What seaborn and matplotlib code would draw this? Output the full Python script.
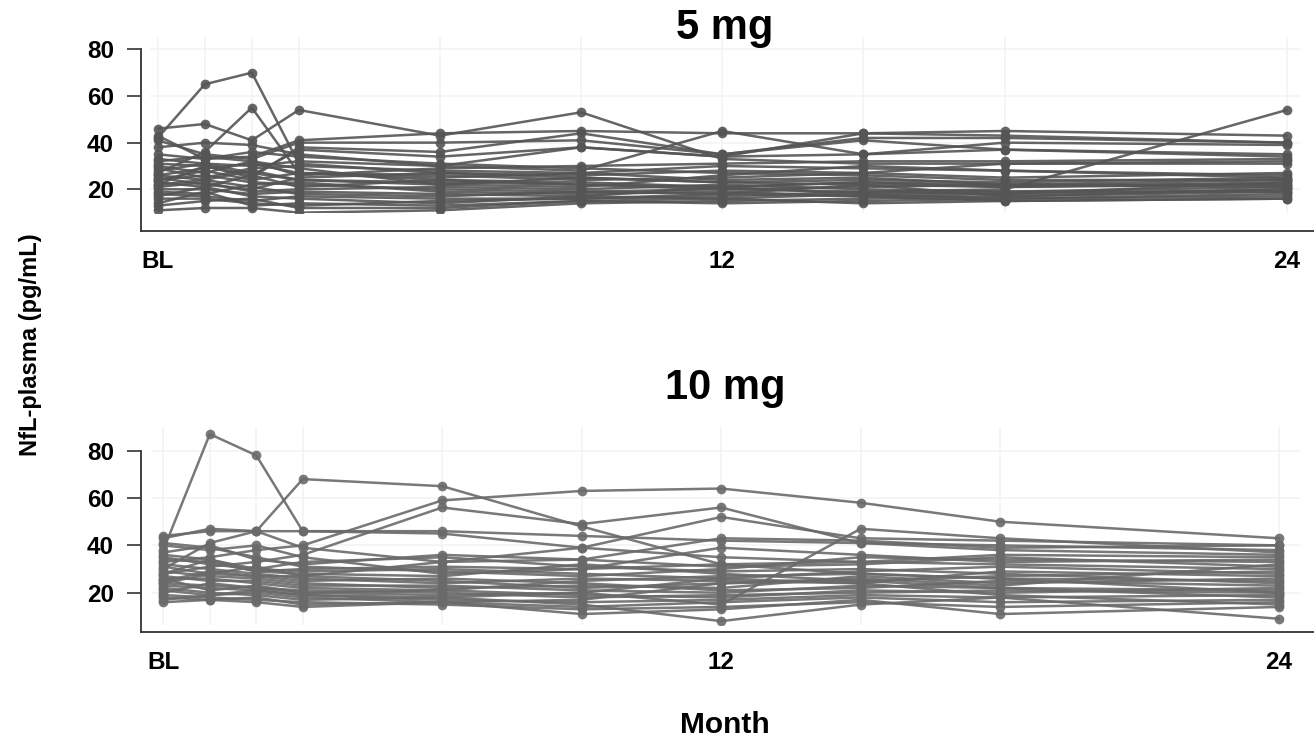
import pandas as pd
import seaborn as sns
import matplotlib.pyplot as plt

# Visit months (BL = 0)
months = [0, 1, 2, 3, 6, 9, 12, 15, 18, 24]
x_tick_labels = ["BL", "", "", "", "", "", "12", "", "", "24"]
y_ticks = [20, 40, 60, 80]

# NfL-plasma (pg/mL) per patient, one row per patient, one value per visit
nfl_5mg = [
    [42, 65, 70, 31, 27, 25, 23, 22, 21, 22],
    [46, 48, 41, 54, 43, 53, 33, 31, 31, 32],
    [27, 36, 55, 27, 24, 22, 21, 23, 22, 21],
    [43, 33, 34, 41, 44, 45, 44, 44, 45, 43],
    [41, 35, 33, 40, 40, 41, 35, 42, 42, 40],
    [31, 30, 26, 37, 34, 38, 34, 35, 40, 39],
    [28, 31, 30, 32, 30, 28, 45, 35, 37, 35],
    [25, 22, 20, 25, 27, 26, 28, 27, 31, 31],
    [30, 27, 32, 29, 22, 21, 26, 30, 28, 25],
    [22, 24, 28, 24, 23, 22, 20, 19, 20, 54],
    [24, 26, 23, 22, 20, 19, 18, 22, 17, 19],
    [20, 20, 18, 19, 18, 17, 16, 18, 16, 17],
    [18, 17, 15, 17, 16, 16, 18, 17, 15, 16],
    [14, 19, 13, 14, 13, 15, 14, 15, 16, 18],
    [11, 12, 12, 10, 11, 14, 15, 16, 17, 20],
    [16, 16, 14, 13, 15, 16, 17, 19, 18, 23],
    [26, 29, 31, 27, 25, 27, 24, 25, 22, 24],
    [33, 31, 27, 24, 22, 25, 23, 24, 23, 25],
    [29, 25, 29, 30, 28, 27, 30, 29, 28, 26],
    [23, 21, 26, 21, 24, 23, 21, 23, 21, 23],
    [21, 23, 19, 20, 21, 20, 22, 20, 19, 21],
    [19, 18, 22, 23, 19, 18, 19, 17, 18, 20],
    [35, 33, 36, 34, 31, 29, 27, 26, 24, 24],
    [26, 24, 21, 18, 17, 19, 20, 21, 22, 22],
    [32, 34, 32, 26, 29, 30, 31, 32, 32, 33],
    [24, 28, 24, 27, 26, 24, 25, 27, 25, 27],
    [17, 21, 17, 16, 14, 17, 21, 18, 19, 19],
    [13, 15, 16, 12, 12, 15, 16, 14, 15, 16],
    [38, 40, 39, 35, 30, 38, 34, 44, 43, 40],
    [22, 30, 25, 38, 36, 44, 35, 41, 37, 34],
]

nfl_10mg = [
    [38, 87, 78, 46, 45, 39, 35, 33, 32, 30],
    [44, 46, 46, 46, 46, 44, 42, 41, 40, 38],
    [30, 41, 46, 68, 65, 48, 32, 28, 26, 25],
    [33, 35, 38, 40, 59, 63, 64, 58, 50, 43],
    [28, 31, 33, 36, 56, 49, 56, 41, 38, 36],
    [43, 47, 46, 39, 33, 39, 52, 43, 42, 40],
    [25, 29, 27, 27, 33, 34, 43, 42, 39, 40],
    [22, 20, 19, 17, 18, 15, 8, 15, 18, 9],
    [18, 17, 16, 14, 16, 11, 13, 17, 11, 14],
    [20, 24, 22, 20, 19, 20, 15, 47, 43, 37],
    [41, 39, 35, 31, 29, 27, 30, 35, 34, 33],
    [36, 34, 30, 29, 30, 28, 26, 29, 31, 28],
    [34, 33, 29, 28, 27, 32, 28, 25, 27, 29],
    [32, 30, 28, 26, 24, 26, 25, 24, 29, 27],
    [31, 28, 27, 25, 26, 24, 21, 22, 25, 23],
    [29, 27, 26, 24, 22, 23, 22, 27, 24, 26],
    [27, 25, 25, 23, 23, 21, 20, 23, 22, 21],
    [26, 26, 24, 22, 21, 19, 18, 21, 20, 22],
    [24, 23, 22, 21, 20, 18, 19, 20, 21, 20],
    [23, 22, 21, 19, 17, 16, 17, 19, 18, 19],
    [21, 19, 20, 18, 16, 14, 16, 18, 16, 17],
    [19, 18, 17, 16, 15, 13, 14, 16, 14, 16],
    [16, 17, 18, 15, 16, 17, 24, 25, 22, 18],
    [35, 32, 30, 33, 35, 31, 29, 30, 28, 24],
    [28, 34, 29, 30, 31, 30, 32, 33, 36, 35],
    [24, 28, 31, 27, 25, 22, 24, 26, 23, 32],
    [37, 40, 34, 32, 36, 34, 31, 32, 35, 31],
    [26, 21, 23, 20, 21, 25, 27, 28, 26, 20],
    [17, 19, 21, 19, 18, 20, 26, 24, 19, 15],
    [40, 38, 40, 35, 28, 30, 39, 36, 33, 34],
]


def to_long(rows):
    recs = []
    for pid, vals in enumerate(rows):
        for m, v in zip(months, vals):
            recs.append({"patient": pid, "month": m, "nfl": v})
    return pd.DataFrame(recs)


sns.set_theme(style="white")
plt.rcParams["font.family"] = ["Liberation Sans", "DejaVu Sans"]
plt.rcParams["font.weight"] = "bold"
plt.rcParams["text.color"] = "black"

W, H = 1314, 742
fig = plt.figure(figsize=(W / 100, H / 100), dpi=100)

# panel boxes in pixels: left, top, right, bottom of the grid area
panels = [
    dict(title="5 mg", data=nfl_5mg, box=(150, 37, 1300, 213),
         xlim=(-0.164, 24.28), ylim=(9.85, 85.27), color="#555555",
         off_left=9, off_bottom=18, left_bounds=(2.1, 80), bottom_bounds=(-0.36, 24.6),
         title_y=39),
    dict(title="10 mg", data=nfl_10mg, box=(152, 427, 1300, 625),
         xlim=(-0.243, 24.45), ylim=(6.37, 90.0), color="#6a6a6a",
         off_left=11, off_bottom=7, left_bounds=(3.3, 80), bottom_bounds=(-0.49, 24.8),
         title_y=399),
]

for p in panels:
    l, t, r, b = p["box"]
    ax = fig.add_axes([l / W, 1 - b / H, (r - l) / W, (b - t) / H])
    df = to_long(p["data"])
    sns.lineplot(data=df, x="month", y="nfl", units="patient", estimator=None,
                 color=p["color"], alpha=0.9, linewidth=1.8, marker="o",
                 markersize=7, markeredgewidth=0, legend=False, ax=ax)

    ax.set_xlim(*p["xlim"])
    ax.set_ylim(*p["ylim"])
    ax.set_xticks(months)
    ax.set_xticklabels(x_tick_labels)
    ax.set_yticks(y_ticks)
    ax.set_xlabel("")
    ax.set_ylabel("")
    ax.grid(True, color="#f3f3f3", linewidth=1.2)
    ax.set_axisbelow(True)

    sns.despine(ax=ax)
    ax.spines["left"].set_position(("outward", p["off_left"] * 0.72))
    ax.spines["bottom"].set_position(("outward", p["off_bottom"] * 0.72))
    ax.spines["left"].set_bounds(*p["left_bounds"])
    ax.spines["bottom"].set_bounds(*p["bottom_bounds"])
    for s in ("left", "bottom"):
        ax.spines[s].set_color("#333333")
        ax.spines[s].set_linewidth(1.3)
        ax.spines[s].set_clip_on(False)

    ax.tick_params(axis="y", length=10, width=1.2, color="#333333", pad=9.5,
                   labelsize=17.5, labelcolor="black", left=True)
    ax.tick_params(axis="x", length=0, pad=13.5, labelsize=17.5, labelcolor="black")

    fig.text(725 / W, 1 - p["title_y"] / H, p["title"], ha="center", va="baseline",
             fontsize=30, fontweight="bold", color="black")

fig.text(31 / W, 1 - 345 / H, "NfL-plasma (pg/mL)", rotation=90, ha="center",
         va="center", fontsize=17, fontweight="bold", color="black")
fig.text(725 / W, 1 - 733 / H, "Month", ha="center", va="baseline",
         fontsize=21.5, fontweight="bold", color="black")

fig.savefig("out.png", dpi=100)
